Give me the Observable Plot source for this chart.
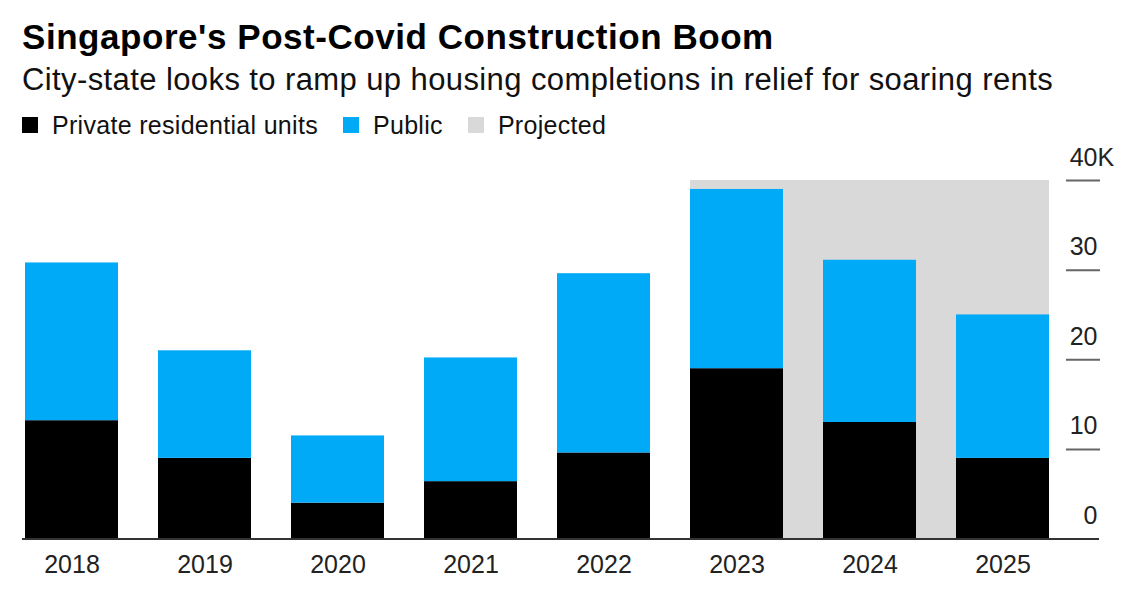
<!DOCTYPE html>
<html><head><meta charset="utf-8">
<script src="https://cdn.jsdelivr.net/npm/d3@7"></script>
<script src="https://cdn.jsdelivr.net/npm/@observablehq/plot@0.6"></script>
<style>
body{margin:0;background:#fff;font-family:"Liberation Sans",Arial,Helvetica,sans-serif;color:#000}
#wrap{position:relative;width:1140px;height:597px;overflow:hidden;background:#fff}
.title{position:absolute;left:22px;top:16px;font-size:35px;font-weight:bold;line-height:42px;letter-spacing:0.55px;white-space:nowrap;z-index:2}
.sub{position:absolute;left:22px;top:62px;font-size:31px;line-height:36px;letter-spacing:0.4px;white-space:nowrap;color:#111;z-index:2}
.legend{position:absolute;left:22px;top:110px;font-size:25px;line-height:30px;letter-spacing:0.3px;display:flex;align-items:center;white-space:nowrap;color:#111;z-index:2}
.sw{display:inline-block;width:16px;height:16px;margin-right:14px}
.item{display:flex;align-items:center;margin-right:25px}
#chart{position:absolute;left:0;top:135px;z-index:1}
</style></head>
<body>
<div id="wrap">
  <div class="title">Singapore's Post-Covid Construction Boom</div>
  <div class="sub">City-state looks to ramp up housing completions in relief for soaring rents</div>
  <div class="legend" id="legend"></div>
  <div id="chart"></div>
</div>
<script>
// Data (thousands of units)
const years = ["2018","2019","2020","2021","2022","2023","2024","2025"];
const privateUnits = [13.2, 9.0, 4.0, 6.4, 9.6, 19.0, 13.0, 9.0];
const publicUnits  = [17.6, 12.0, 7.5, 13.8, 20.0, 20.0, 18.1, 16.0];
const projectedYears = ["2023","2024","2025"];
const projectedTop = 40;
const yTicks = [0, 10, 20, 30, 40];
const yTickLabels = ["0", "10", "20", "30", "40"];
const yUnitSuffix = "K";
const seriesNames = ["Private residential units", "Public"];
const seriesColors = ["#000000", "#00aaf7"];
const projectedColor = "#d9d9d9";

// Legend
const legend = document.getElementById("legend");
[[seriesNames[0], seriesColors[0]], [seriesNames[1], seriesColors[1]], ["Projected", projectedColor]].forEach(([name, color]) => {
  const it = document.createElement("span"); it.className = "item";
  const sw = document.createElement("span"); sw.className = "sw"; sw.style.background = color;
  it.appendChild(sw); it.appendChild(document.createTextNode(name));
  legend.appendChild(it);
});

// Long table
const table = [];
years.forEach((y, i) => {
  table.push({year: y, series: seriesNames[0], value: privateUnits[i]});
  table.push({year: y, series: seriesNames[1], value: publicUnits[i]});
});

const width = 1140, height = 462;
const marginLeft = 22, marginRight = 88, marginTop = 45, marginBottom = 58.5;
const paddingInner = 0.3;
const step = (width - marginLeft - marginRight) / (years.length - paddingInner);
const gap = step * paddingInner;

const plot = Plot.plot({
  width, height, marginLeft, marginRight, marginTop, marginBottom,
  style: {fontFamily: '"Liberation Sans", Arial, Helvetica, sans-serif', fontSize: "25px", color: "#222", background: "transparent", overflow: "visible"},
  x: {domain: years, paddingInner, paddingOuter: 0, label: null},
  y: {domain: [0, 40], label: null},
  color: {domain: seriesNames, range: seriesColors},
  marks: [
    Plot.barY(projectedYears.slice(0, -1), {x: d => d, y: projectedTop, fill: projectedColor, insetRight: -gap}),
    Plot.barY(projectedYears.slice(-1), {x: d => d, y: projectedTop, fill: projectedColor}),
    Plot.barY(table, {x: "year", y: "value", fill: "series", order: seriesNames}),
    Plot.axisX({tickSize: 0, tickPadding: 16, fontSize: 25, fill: "#222", label: null}),
    Plot.axisY(yTicks.slice(1), {anchor: "right", tickSize: 34, dx: 13, fill: "none", stroke: "#666", strokeWidth: 2, label: null}),
    Plot.text(yTicks, {y: d => d, text: (d, i) => yTickLabels[i], frameAnchor: "right", textAnchor: "end", dx: 45, dy: -23, fontSize: 25, fill: "#222"}),
    Plot.text(yTicks.slice(-1), {y: d => d, text: () => yUnitSuffix, frameAnchor: "right", textAnchor: "start", dx: 45, dy: -23, fontSize: 25, fill: "#222"}),
    Plot.ruleY([0], {insetRight: -47, stroke: "#333", strokeWidth: 1.8})
  ]
});
document.getElementById("chart").appendChild(plot);
</script>
</body></html>
